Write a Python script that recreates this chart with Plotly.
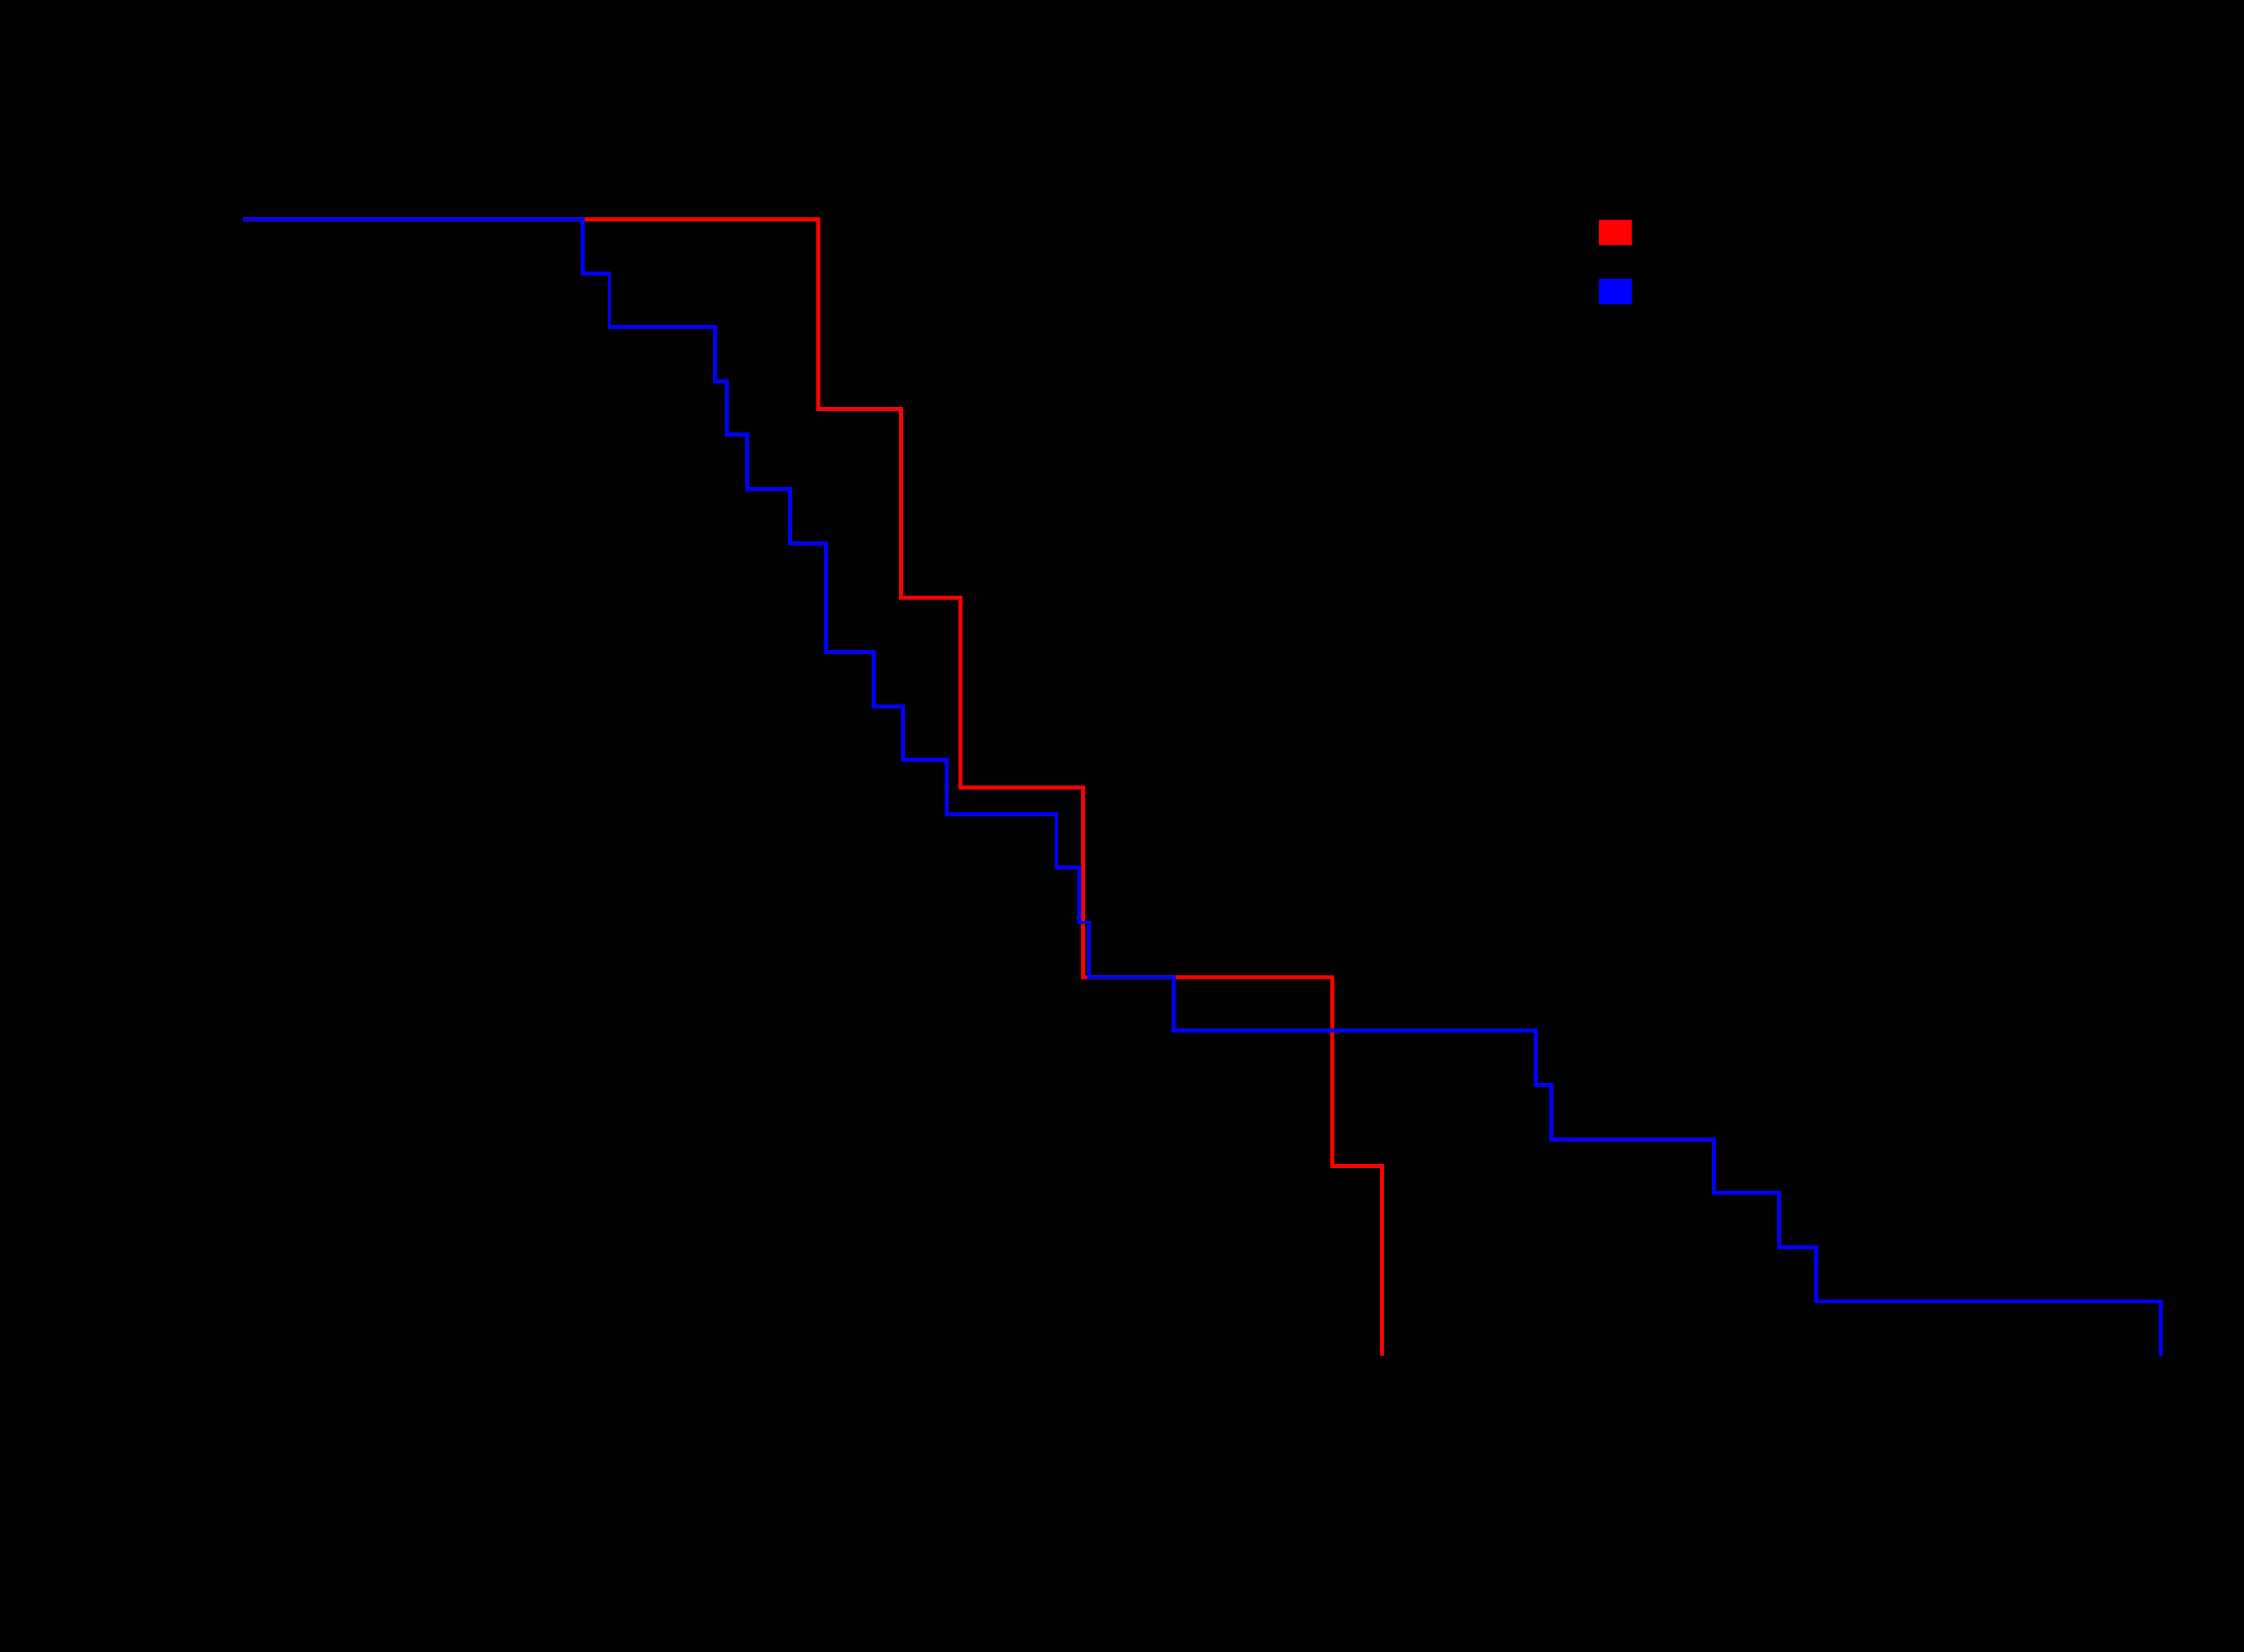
"""Survival curves (Kaplan-Meier style) for two groups.

The source picture is a transparent R plot: everything drawn in black sits on
black, so only the two step curves and the legend swatches are visible.
"""

import plotly.graph_objects as go

# time of each step and the survival estimate right after it
red_time = [0, 30.0, 34.3, 37.4, 43.8, 56.8, 59.4]
red_surv = [1.0, 0.833, 0.667, 0.5, 0.333, 0.167, 0.0]

blue_time = [0, 17.7, 19.1, 24.6, 25.2, 26.3, 28.5, 30.4, 32.9, 34.4, 36.7,
             42.4, 43.6, 44.1, 48.5, 67.4, 68.2, 76.7, 80.1, 82.0, 100.0]
blue_surv = [1.0, 0.952, 0.905, 0.857, 0.810, 0.762, 0.714, 0.619, 0.571, 0.524, 0.476,
             0.429, 0.381, 0.333, 0.286, 0.238, 0.190, 0.143, 0.095, 0.048, 0.0]

group_names = ["Group 1", "Group 2"]
group_colors = ["red", "blue"]

x_ticks = [0, 20, 40, 60, 80, 100]
y_ticks = [0.0, 0.2, 0.4, 0.6, 0.8, 1.0]

FONT = "Liberation Sans, Arial, sans-serif"

fig = go.Figure()
for name, color, t, s in zip(group_names, group_colors,
                             [red_time, blue_time], [red_surv, blue_surv]):
    fig.add_trace(go.Scatter(
        x=t, y=s, name=name, mode="lines", line_shape="hv",
        line=dict(color=color, width=4), showlegend=False,
    ))

# legend drawn the R way: filled boxes with labels next to them
box_y = [(0.9412, 0.9626), (0.8931, 0.9144)]
for name, color, (y0, y1) in zip(group_names, group_colors, box_y):
    fig.add_shape(type="rect", xref="paper", yref="paper",
                  x0=0.708, x1=0.724, y0=y0, y1=y1,
                  fillcolor=color, line=dict(width=0))
    fig.add_annotation(xref="paper", yref="paper", x=0.735, y=(y0 + y1) / 2,
                       text=name, showarrow=False, xanchor="left",
                       font=dict(family=FONT, size=26, color="black"))

axis_common = dict(
    showgrid=False, zeroline=False, showline=True, linecolor="black",
    linewidth=1, mirror=True, ticks="outside", tickcolor="black",
    tickfont=dict(family=FONT, size=26, color="black"),
)

fig.update_layout(
    width=2279, height=1678,
    paper_bgcolor="black", plot_bgcolor="black",
    margin=dict(l=169, r=55, t=176, b=255),
    title=dict(text="Survival by group", x=0.5, y=0.96,
               font=dict(family=FONT, size=32, color="black")),
    xaxis=dict(range=[-4.0, 101.5], tickvals=x_ticks,
               title=dict(text="Time (months)",
                          font=dict(family=FONT, size=28, color="black")),
               **axis_common),
    yaxis=dict(range=[-0.04, 1.04], tickvals=y_ticks,
               title=dict(text="Survival probability",
                          font=dict(family=FONT, size=28, color="black")),
               **axis_common),
    font=dict(family=FONT, color="black"),
)

# drop the page's default body margin so the figure sits at the window corner
fig.write_html(
    "out.html",
    config={"displayModeBar": False},
    post_script="document.body.style.margin='0px';"
                "document.body.style.background='black';",
)
